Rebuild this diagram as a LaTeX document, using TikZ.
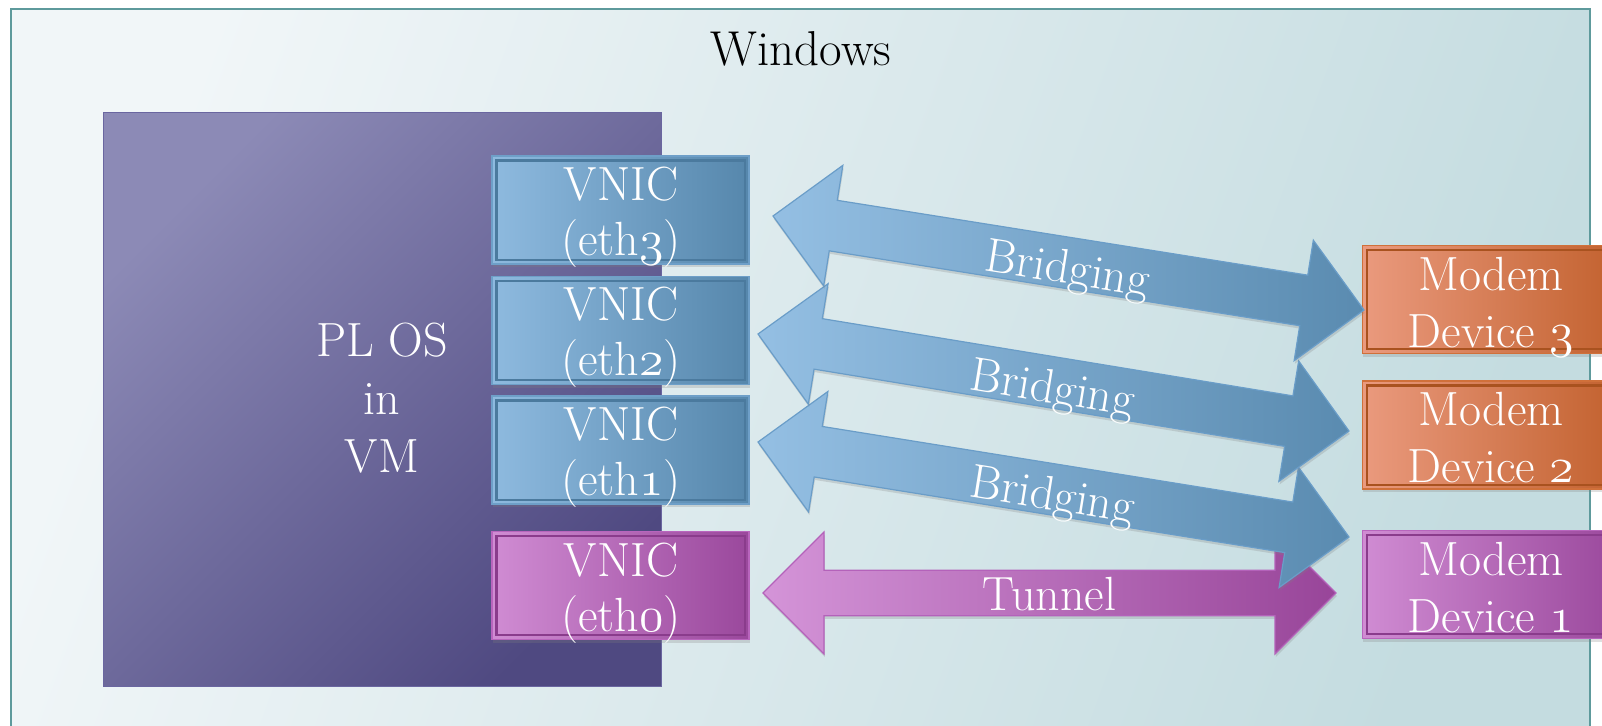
\documentclass[tikz,border=0pt]{standalone}
\usetikzlibrary{shapes.arrows,shadows}
\newcommand\osn[1]{{\usefont{OML}{lmm}{m}{it}#1}}
\definecolor{frameL}{HTML}{F1F6F8}
\definecolor{frameR}{HTML}{C4DCE0}
\definecolor{frameB}{HTML}{5E9A9C}
\definecolor{plL}{HTML}{8C8AB6}
\definecolor{plD}{HTML}{4F4981}
\definecolor{plB}{HTML}{6A66A0}
\definecolor{blueL}{HTML}{8EBADF}
\definecolor{blueR}{HTML}{5687AC}
\definecolor{blueB}{HTML}{6E9FC8}
\definecolor{blueI}{HTML}{4B7A9E}
\definecolor{magL}{HTML}{D08CD3}
\definecolor{magR}{HTML}{9A489C}
\definecolor{magB}{HTML}{B865BD}
\definecolor{magI}{HTML}{8A3C8C}
\definecolor{orL}{HTML}{EA9A7E}
\definecolor{orR}{HTML}{C2612E}
\definecolor{orB}{HTML}{D0703A}
\definecolor{orI}{HTML}{A9521F}
\definecolor{arL}{HTML}{94BFE3}
\definecolor{arR}{HTML}{5A8BB0}
\definecolor{arB}{HTML}{6A9DC8}
\definecolor{taL}{HTML}{D494D8}
\definecolor{taR}{HTML}{984599}
\definecolor{taB}{HTML}{B462BA}
\begin{document}
\begin{tikzpicture}[x=0.5pt,y=-0.5pt,
  lbl/.style={text=white,font=\fontsize{24}{27.5}\selectfont,align=center,inner sep=0pt},
  mlbl/.style={lbl,font=\fontsize{24}{28.5}\selectfont},
  shad/.style={drop shadow={opacity=0.25,shadow xshift=0.4pt,shadow yshift=-1.5pt}},
  bevel/.style={path picture={\draw[#1,line width=1.1pt]
      ([shift={(2.2pt,-2.2pt)}]path picture bounding box.north west) rectangle
      ([shift={(-2.2pt,2.2pt)}]path picture bounding box.south east);}},
  box/.style={minimum width=128.5pt,minimum height=54pt,inner sep=0pt,outer sep=0pt,line width=0.9pt,shad},
  bluebox/.style={box,draw=blueB,left color=blueL,right color=blueR,bevel=blueI},
  magbox/.style={box,draw=magB,left color=magL,right color=magR,bevel=magI},
  orbox/.style={box,draw=orB,left color=orL,right color=orR,bevel=orI},
  arrowbase/.style={double arrow,double arrow tip angle=90,double arrow head extend=14.75pt,
      minimum width=61pt,inner sep=0pt,line width=0.6pt,text=white,
      font=\fontsize{24}{28}\selectfont,text depth=0pt,shad},
  barrow/.style={arrowbase,draw=arB,left color=arL,right color=arR,text height=20.7pt},
  tarrow/.style={arrowbase,draw=taB,left color=taL,right color=taR,text height=17pt}
]
\useasboundingbox (0,0) rectangle (1602,725);
\clip (0,0) rectangle (1602,725);
% Windows frame
\node[draw=frameB,line width=1.1pt,top color=frameL,bottom color=frameR,shading angle=70,
      minimum width=789.5pt,minimum height=366pt,anchor=north west,inner sep=0pt] (win) at (10,8) {};
\node[font=\fontsize{24.5}{29}\selectfont,text=black,anchor=base,inner sep=0pt] (wintitle) at (801,65) {Windows};
% PL OS box
\node[draw=plB,line width=0.5pt,top color=plL,bottom color=plD,shading angle=45,
      minimum width=279pt,minimum height=287pt,anchor=north west,inner sep=0pt] (pl) at (103,112) {};
\node[lbl,font=\fontsize{24}{29}\selectfont] (pltext) at (382,398.5) {PL OS\\in\\VM};
% VNIC boxes
\node[bluebox] (eth3) at (620.5,210) {};
\node[bluebox] (eth2) at (620.5,330.5) {};
\node[bluebox] (eth1) at (620.5,450) {};
\node[magbox]  (eth0) at (620.5,585.5) {};
\node[lbl] (eth3t) at (621,217) {VNIC\\(eth\osn{3})};
\node[lbl] (eth2t) at (621,337) {VNIC\\(eth\osn{2})};
\node[lbl] (eth1t) at (621,457) {VNIC\\(eth\osn{1})};
\node[lbl] (eth0t) at (621,593) {VNIC\\(eth\osn{0})};
% Modem boxes
\node[orbox]  (md3) at (1491,299.5) {};
\node[orbox]  (md2) at (1491,435) {};
\node[magbox] (md1) at (1491,584.5) {};
\node[mlbl] (md3t) at (1491,306.8) {Modem\\Device \osn{3}};
\node[mlbl] (md2t) at (1491,437.1) {Modem\\Device \osn{2}};
\node[mlbl] (md1t) at (1491,587.1) {Modem\\Device \osn{1}};
% Arrows
\node[tarrow,minimum height=286.5pt] (tun) at (1049.5,593) {Tunnel};
\node[barrow,minimum height=299.3pt,rotate=-9.13] (br1) at (1053.5,489.5) {Bridging};
\node[barrow,minimum height=299.45pt,rotate=-9.32] (br2) at (1053.5,382.5) {Bridging};
\node[barrow,minimum height=299.2pt,rotate=-9.04] (br3) at (1068.5,263) {Bridging};
\end{tikzpicture}
\end{document}
